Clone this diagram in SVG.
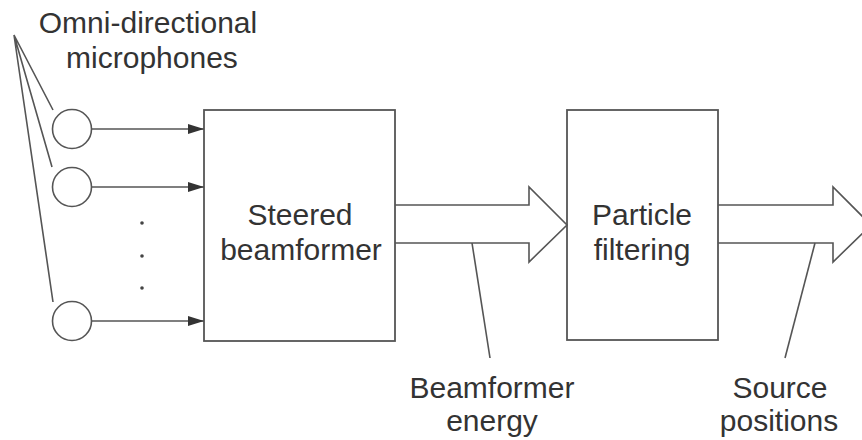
<svg xmlns="http://www.w3.org/2000/svg" width="862" height="440" viewBox="0 0 862 440">
<defs>
<style>
.ln{fill:none;stroke:#555;stroke-width:1.6}
.bx{fill:#fff;stroke:#555;stroke-width:1.8}
.t{font-family:"Liberation Sans",Arial,sans-serif;font-size:30px;fill:#333;text-anchor:middle}
.dot{fill:#444}
</style>
<marker id="ah" viewBox="0 0 16 10" refX="16" refY="5" markerWidth="16" markerHeight="10" markerUnits="userSpaceOnUse" orient="auto">
<path d="M0,0 L16,5 L0,10 Z" fill="#333"/>
</marker>
</defs>
<rect width="862" height="440" fill="#fff"/>
<g id="label-mics">
<text class="t" x="148" y="33">Omni-directional</text>
<text class="t" x="152" y="68">microphones</text>
</g>
<g id="mic1"><circle class="ln" cx="72" cy="129" r="19.5"/></g>
<g id="mic2"><circle class="ln" cx="72" cy="187" r="19.5"/></g>
<g id="mic3"><circle class="ln" cx="72" cy="321" r="19.5"/></g>
<g id="dots">
<circle class="dot" cx="142" cy="223" r="1.8"/>
<circle class="dot" cx="142" cy="256" r="1.8"/>
<circle class="dot" cx="142" cy="288" r="1.8"/>
</g>
<g id="beamformer">
<rect class="bx" x="204" y="110" width="191" height="231"/>
<text class="t" x="300" y="225">Steered</text>
<text class="t" x="301" y="260">beamformer</text>
</g>
<g id="particle">
<rect class="bx" x="567" y="110" width="151" height="230"/>
<text class="t" x="642" y="225">Particle</text>
<text class="t" x="642" y="260">filtering</text>
</g>
<g id="label-energy">
<text class="t" x="492" y="398">Beamformer</text>
<text class="t" x="492" y="431">energy</text>
</g>
<g id="label-positions">
<text class="t" x="780" y="398">Source</text>
<text class="t" x="779" y="431">positions</text>
</g>
<g id="connectors">
<path class="ln" d="M14,35 L53,110 M14,35 L52,167 M14,35 L53,302"/>
<path class="ln" d="M91.5,129 L204,129" marker-end="url(#ah)"/>
<path class="ln" d="M91.5,187 L204,187" marker-end="url(#ah)"/>
<path class="ln" d="M91.5,321 L204,321" marker-end="url(#ah)" stroke-width="2.4"/>
<path class="ln" d="M395,205 L529,205 L529,187 L567,225 L529,262 L529,243 L395,243"/>
<path class="ln" d="M718,205 L833,205 L833,187 L871,225 L833,262 L833,243 L718,243"/>
<path class="ln" d="M472,243 L490,358"/>
<path class="ln" d="M815,243 L785,358"/>
</g>
</svg>
